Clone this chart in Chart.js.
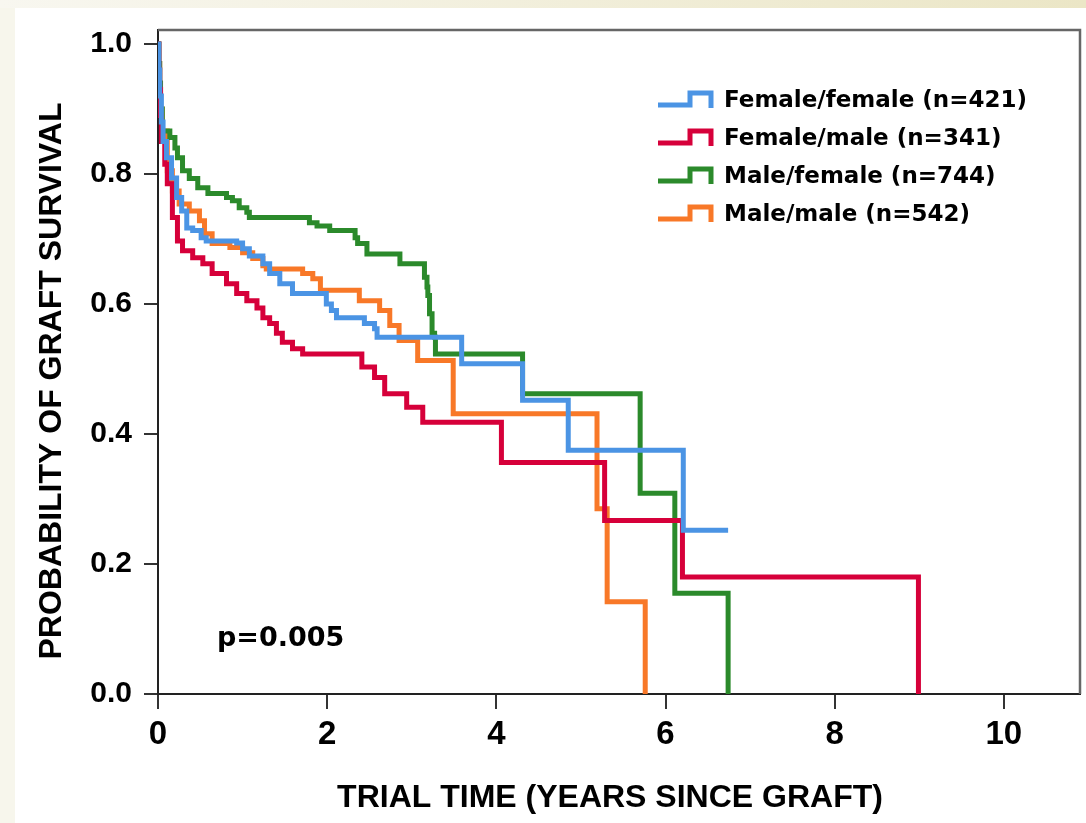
<!DOCTYPE html>
<html>
<head>
<meta charset="utf-8">
<script src="https://cdn.jsdelivr.net/npm/chart.js@4/dist/chart.umd.min.js"></script>
<style>
    html, body { margin: 0; padding: 0; }
    body { width: 1086px; height: 823px; overflow: hidden; position: relative; background: #f7f6ec; }
    #topBand { position: absolute; left: 0; top: 0; width: 1086px; height: 8px;
               background: linear-gradient(to right, #f8f7f0, #ebe6c6); }
    #paper { position: absolute; left: 15px; top: 8px; right: 0; bottom: 0; background: #fff; }
    #kmChart { position: absolute; left: 0; top: 0; }
</style>
</head>
<body>
<div id="topBand"></div>
<div id="paper"></div>
<canvas id="kmChart" width="1086" height="823"></canvas>
<script>
const xTicks = [0, 2, 4, 6, 8, 10];
const yTicks = [0, 0.2, 0.4, 0.6, 0.8, 1.0];
const xMax = 10.9;
const yMax = 1.0215;

const xTitle = 'TRIAL TIME (YEARS SINCE GRAFT)';
const yTitle = 'PROBABILITY OF GRAFT SURVIVAL';
const pValueText = 'p=0.005';

const seriesLabels = ['Female/female (n=421)', 'Female/male (n=341)', 'Male/female (n=744)', 'Male/male (n=542)'];
const seriesColors = ['#4b94e4', '#d6003a', '#2b8a2b', '#f87828'];

// Female/female
const ffTimes = [0, 0.01, 0.02, 0.04, 0.06, 0.1, 0.16, 0.22, 0.28, 0.34, 0.41, 0.51, 0.57, 0.93, 1.0, 1.08, 1.24, 1.32, 1.44, 1.59, 1.99, 2.05, 2.11, 2.44, 2.56, 2.59, 3.59, 4.31, 4.85, 6.21, 6.74];
const ffSurv = [1, 0.96, 0.92, 0.88, 0.85, 0.825, 0.794, 0.764, 0.743, 0.717, 0.713, 0.702, 0.697, 0.694, 0.685, 0.674, 0.662, 0.647, 0.631, 0.616, 0.6, 0.59, 0.579, 0.57, 0.562, 0.549, 0.508, 0.452, 0.375, 0.252, 0.252];

// Female/male
const fmTimes = [0, 0.01, 0.02, 0.03, 0.04, 0.08, 0.11, 0.17, 0.23, 0.29, 0.41, 0.53, 0.64, 0.81, 0.93, 1.05, 1.17, 1.24, 1.32, 1.4, 1.47, 1.59, 1.71, 2.41, 2.56, 2.68, 2.94, 3.13, 4.06, 5.28, 6.2, 8.99];
const fmSurv = [1, 0.96, 0.93, 0.89, 0.85, 0.815, 0.785, 0.733, 0.697, 0.682, 0.671, 0.662, 0.647, 0.631, 0.616, 0.605, 0.594, 0.579, 0.57, 0.555, 0.541, 0.531, 0.523, 0.503, 0.487, 0.462, 0.441, 0.418, 0.356, 0.267, 0.18, 0];

// Male/female
const mfTimes = [0, 0.01, 0.02, 0.03, 0.05, 0.14, 0.2, 0.23, 0.29, 0.37, 0.47, 0.59, 0.81, 0.88, 0.96, 1.05, 1.08, 1.79, 1.88, 2.03, 2.33, 2.36, 2.47, 2.86, 3.15, 3.18, 3.19, 3.21, 3.24, 3.27, 3.28, 4.31, 5.7, 6.11, 6.74];
const mfSurv = [1, 0.97, 0.94, 0.9, 0.866, 0.856, 0.84, 0.825, 0.805, 0.793, 0.779, 0.77, 0.764, 0.759, 0.748, 0.741, 0.733, 0.725, 0.72, 0.713, 0.702, 0.693, 0.677, 0.662, 0.641, 0.626, 0.613, 0.585, 0.555, 0.549, 0.523, 0.462, 0.309, 0.155, 0];

// Male/male
const mmTimes = [0, 0.01, 0.02, 0.03, 0.05, 0.11, 0.17, 0.25, 0.37, 0.49, 0.55, 0.64, 0.85, 1.0, 1.12, 1.24, 1.28, 1.71, 1.83, 1.92, 2.38, 2.62, 2.74, 2.85, 3.07, 3.49, 5.19, 5.31, 5.76];
const mmSurv = [1, 0.97, 0.93, 0.9, 0.866, 0.805, 0.774, 0.754, 0.743, 0.728, 0.708, 0.693, 0.687, 0.679, 0.67, 0.659, 0.654, 0.647, 0.639, 0.621, 0.605, 0.59, 0.567, 0.544, 0.513, 0.431, 0.285, 0.142, 0];

const toPoints = (times, surv) => times.map((t, i) => ({ x: t, y: surv[i] }));
const seriesData = [
    toPoints(ffTimes, ffSurv),
    toPoints(fmTimes, fmSurv),
    toPoints(mfTimes, mfSurv),
    toPoints(mmTimes, mmSurv)
];

const boldFont = 'Liberation Sans, Arial, sans-serif';
const wideFont = 'DejaVu Sans, Verdana, sans-serif';

// frame, legend, p value and axis titles
const kmDecor = {
    id: 'kmDecor',
    afterDraw(chart) {
        const { ctx, chartArea } = chart;
        ctx.save();

        ctx.strokeStyle = '#666';
        ctx.lineWidth = 2.5;
        ctx.beginPath();
        ctx.moveTo(chartArea.left, chartArea.top);
        ctx.lineTo(chartArea.right, chartArea.top);
        ctx.lineTo(chartArea.right, chartArea.bottom);
        ctx.stroke();

        chart.data.datasets.forEach((ds, i) => {
            const y = 100 + i * 38;
            ctx.strokeStyle = ds.borderColor;
            ctx.lineWidth = 5;
            ctx.lineJoin = 'miter';
            ctx.beginPath();
            ctx.moveTo(658, y + 5);
            ctx.lineTo(690, y + 5);
            ctx.lineTo(690, y - 7);
            ctx.lineTo(711, y - 7);
            ctx.lineTo(711, y + 8);
            ctx.stroke();

            ctx.fillStyle = '#000';
            ctx.font = `bold 23px ${wideFont}`;
            ctx.textAlign = 'left';
            ctx.textBaseline = 'middle';
            ctx.fillText(ds.label, 724, y + 1);
        });

        ctx.fillStyle = '#000';
        ctx.font = `bold 27px ${wideFont}`;
        ctx.textAlign = 'left';
        ctx.textBaseline = 'alphabetic';
        ctx.fillText(pValueText, 217, 646);

        ctx.font = `bold 32px ${boldFont}`;
        ctx.textAlign = 'center';
        ctx.textBaseline = 'middle';
        ctx.fillText(xTitle, 610, 798);

        ctx.translate(52, 381);
        ctx.rotate(-Math.PI / 2);
        ctx.fillText(yTitle, 0, 0);

        ctx.restore();
    }
};

const ctx = document.getElementById('kmChart').getContext('2d');
new Chart(ctx, {
    type: 'line',
    data: {
        datasets: seriesData.map((pts, i) => ({
            label: seriesLabels[i],
            data: pts,
            borderColor: seriesColors[i],
            backgroundColor: seriesColors[i],
            borderWidth: 5,
            stepped: true,
            pointRadius: 0,
            fill: false,
            borderCapStyle: 'butt',
            borderJoinStyle: 'miter'
        }))
    },
    options: {
        responsive: false,
        animation: false,
        devicePixelRatio: 1,
        layout: { padding: { top: 29, right: 6, left: 0, bottom: 0 } },
        plugins: {
            legend: { display: false },
            tooltip: { enabled: false }
        },
        scales: {
            x: {
                type: 'linear',
                min: 0,
                max: xMax,
                afterBuildTicks: s => { s.ticks = xTicks.map(v => ({ value: v })); },
                afterFit: s => { s.height = 129; },
                grid: { drawOnChartArea: false, tickLength: 15, color: '#333', lineWidth: 2 },
                border: { color: '#222', width: 2 },
                ticks: {
                    padding: 6,
                    color: '#000',
                    font: { family: boldFont, weight: 'bold', size: 33 },
                    callback: v => String(v)
                }
            },
            y: {
                type: 'linear',
                min: 0,
                max: yMax,
                afterBuildTicks: s => { s.ticks = yTicks.map(v => ({ value: v })); },
                afterFit: s => { s.width = 158; },
                grid: { drawOnChartArea: false, tickLength: 14, color: '#333', lineWidth: 2 },
                border: { color: '#222', width: 2 },
                ticks: {
                    padding: 12,
                    color: '#000',
                    font: { family: boldFont, weight: 'bold', size: 30 },
                    callback: v => v.toFixed(1)
                }
            }
        }
    },
    plugins: [kmDecor]
});
</script>
</body>
</html>
